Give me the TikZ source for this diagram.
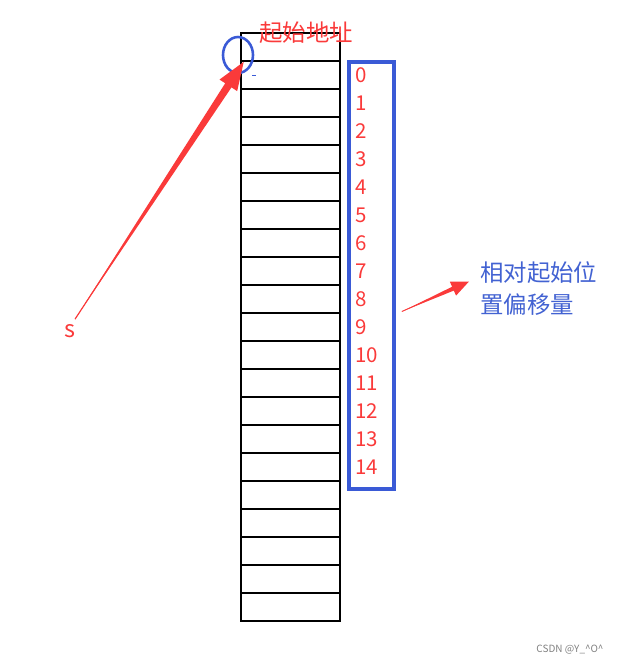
\documentclass[tikz,border=0pt]{standalone}
\usepackage{fontspec}
\setmainfont{Noto Sans CJK SC}
\usepackage{xcolor}
\usetikzlibrary{shapes.geometric,calc}
\definecolor{markred}{RGB}{250,58,58}
\definecolor{markblue}{RGB}{58,90,214}
\definecolor{noteblue}{RGB}{66,98,210}

\begin{document}
\begin{tikzpicture}[x=0.03cm,y=-0.03cm,
		cn/.style={font=\fontsize{20}{28}\selectfont},
		off/.style={anchor=west,inner sep=0pt,text=markred,font=\fontsize{17.5}{20}\selectfont}]
		\useasboundingbox (0,0) rectangle (621,665);
		% memory column
		\foreach \i in {0,...,21}
			\draw [line width=1pt] (240,33+28*\i) -- (340,33+28*\i) ;
		\draw [line width=1pt] (241,33) -- (241,622) ;
		\draw [line width=1pt] (340,33) -- (340,622) ;
		% offsets
		\node (box) [draw=markblue, line width=3.2pt, minimum width=1.35cm, minimum height=12.81cm, inner sep=0pt] at (371.5,275.5) {};
		\foreach \n in {0,...,14}
			\node (o\n) [off] at (355,75+28*\n) {\n};
		\node (start) [ellipse, draw=markblue, line width=2.2pt, minimum width=0.9cm, minimum height=1.08cm, inner sep=0pt] at (238,55) {};
		\node (addr) [cn, text=markred] at (306,33) {起始地址};
		\node (S) [cn, text=markred] at (70,331) {s};
		\node (rel) [cn, text=noteblue, anchor=west, align=left, inner sep=0pt] at (480,288.5) {相对起始位\\置偏移量};
		\draw [markblue, line width=0.4pt] (252,75) -- (256,75) ;
		% arrows
		\coordinate (a1) at ($(S.north)+(5,-1)$);
		\coordinate (a2) at ($(start.center)!0.5!(start.south east)$);
		\coordinate (hb) at ($(a2)!24pt!(a1)$);
		\fill [markred] (a1) -- ($(hb)!3.2pt!90:(a2)$) -- ($(hb)!9pt!90:(a2)$) -- (a2) -- ($(hb)!9pt!-90:(a2)$) -- ($(hb)!3.2pt!-90:(a2)$) -- cycle ;
		\draw [markred, line width=1pt] (a1) -- (hb) ;
		\coordinate (b1) at ($(box.east)+(6,36)$);
		\coordinate (b2) at ($(rel.west)+(-11,-7)$);
		\coordinate (hc) at ($(b2)!15pt!(b1)$);
		\fill [markred] (b1) -- ($(hc)!1.8pt!90:(b2)$) -- ($(hc)!6.5pt!90:(b2)$) -- (b2) -- ($(hc)!6.5pt!-90:(b2)$) -- ($(hc)!1.8pt!-90:(b2)$) -- cycle ;
		\draw [markred, line width=0.8pt] (b1) -- (hc) ;
		\node (mark) [text=gray, font=\fontsize{8.5}{10}\selectfont] at (570,650) {CSDN @Y\_\textasciicircum O\textasciicircum};
	\end{tikzpicture}
\end{document}
